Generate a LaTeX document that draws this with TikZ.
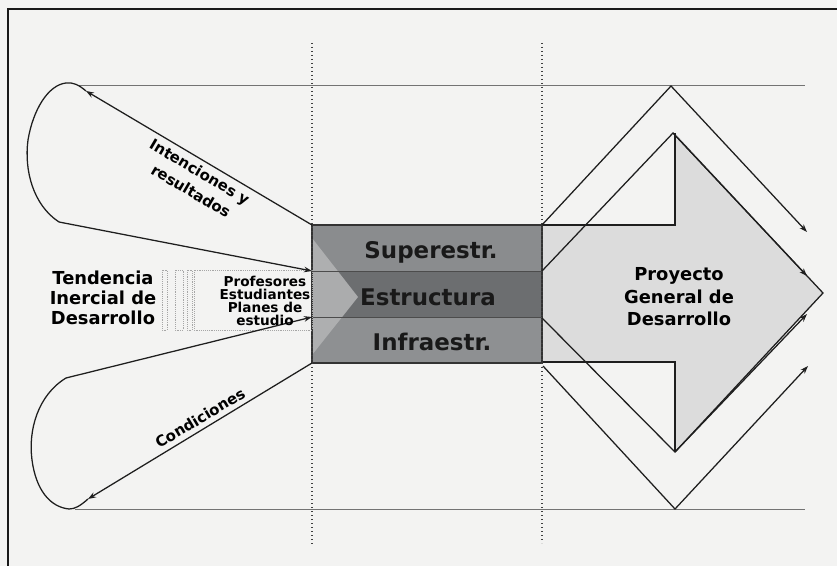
\documentclass[tikz,border=0pt]{standalone}
\usepackage{fontspec}
\setmainfont{DejaVu Sans}
\usetikzlibrary{arrows.meta}
\definecolor{bgpaper}{HTML}{F3F3F2}
\definecolor{inkc}{HTML}{1E1E1E}
\definecolor{bandtop}{HTML}{8A8C8E}
\definecolor{bandmid}{HTML}{6C6E70}
\definecolor{bandbot}{HTML}{8E9092}
\definecolor{lighttri}{HTML}{B2B3B4}
\definecolor{projfill}{HTML}{DCDCDC}
\begin{document}
\begin{tikzpicture}[x=0.75pt,y=-0.75pt,
  ln/.style={draw=inkc, line width=0.95pt},
  arr/.style={ln, -{Stealth[length=6pt,width=4.2pt]}},
  dotv/.style={draw=inkc!85, line width=1pt, dotted},
  hair/.style={draw=black!55, line width=0.7pt},
  ghostbox/.style={draw=black!35, line width=0.4pt, densely dotted},
  bigl/.style={font=\bfseries\fontsize{13.4}{15}\selectfont, align=center, text=black, inner sep=0pt},
  corel/.style={font=\bfseries\fontsize{17.2}{18}\selectfont, text=black!90, inner sep=0pt},
  smalll/.style={font=\bfseries\fontsize{10.2}{9.6}\selectfont, align=center, text=black, inner sep=0pt},
  loopl/.style={font=\bfseries\fontsize{11.2}{14.3}\selectfont, align=center, text=black, inner sep=0pt}]
\fill[bgpaper] (0,0) rectangle (837,566);
\useasboundingbox (0,0) rectangle (837,566);
% frame
\draw[draw=black!90, line width=1.6pt] (8,566) -- (8,9) -- (837,9);
% reference level lines
\draw[hair] (78,85) -- (805,85);
\draw[hair] (75,509) -- (805,509);
% named points
\coordinate (cTL) at (312,225);
\coordinate (cA) at (312,271);
\coordinate (cB) at (312,317);
\coordinate (cBL) at (312,363);
\coordinate (rTL) at (542,225);
\coordinate (rA) at (542,271);
\coordinate (rB) at (542,318);
\coordinate (rBL) at (543,366);
\coordinate (upTurn) at (86,91);
\coordinate (upEnd) at (59,222);
\coordinate (loTurn) at (88,499);
\coordinate (loEnd) at (66,378);
% project block arrow
\fill[projfill] (542,225) -- (675,225) -- (675,133) -- (823,293) -- (675,452) -- (675,362) -- (542,362) -- cycle;
\draw[ln] (542,225) -- (675,225) -- (675,133);
\draw[ln] (542,362) -- (675,362) -- (675,452);
\draw[ln] (673,133) -- (823,293) -- (675,452);
% core structure
\fill[bandtop] (312,225) rectangle (542,271);
\fill[bandmid] (312,271) rectangle (542,317);
\fill[bandbot] (312,317) rectangle (542,363);
\fill[lighttri, opacity=0.9] (312,238) -- (358,297) -- (312,355) -- cycle;
\draw[draw=black!80, line width=0.8pt] (312,225) rectangle (542,363);
\draw[draw=black!70, line width=0.6pt] (312,271) -- (542,271);
\draw[draw=black!70, line width=0.6pt] (312,317) -- (542,317);
\node[corel] (super) at (431,252) {Superestr.};
\node[corel] (estr) at (428,297) {Estructura};
\node[corel] (infra) at (432,342) {Infraestr.};
% dotted verticals
\draw[dotv] (312,43) -- (312,546);
\draw[dotv] (542,43) -- (542,543);
% ghost boxes
\draw[ghostbox] (162,270) rectangle (167,330);
\draw[ghostbox] (175,270) rectangle (183,330);
\draw[ghostbox] (187,270) rectangle (192,330);
\draw[ghostbox] (194,270) rectangle (312,330);
% chevron arrows
\draw[arr] (rTL) -- (671,86) -- (807,232);
\draw[arr] (rA) -- (673,133) -- (807,276);
\draw[arr] (rB) -- (675,452) -- (807,314);
\draw[arr] (rBL) -- (675,509) -- (808,366);
% upper loop
\draw[arr] (cTL) -- (upTurn);
\draw[ln] (upTurn) .. controls (79,85) and (73,82) .. (66,83) .. controls (48,85) and (33,110) .. (28,140) .. controls (24,170) and (33,205) .. (upEnd);
\draw[arr] (upEnd) -- (cA);
% lower loop
\draw[arr] (cBL) -- (loTurn);
\draw[ln] (loTurn) .. controls (80,506) and (75,509) .. (69,509) .. controls (50,507) and (36,490) .. (32,460) .. controls (28,430) and (38,395) .. (loEnd);
\draw[arr] (loEnd) -- (cB);
% labels
\node[bigl] (tend) at (103,298) {Tendencia\\Inercial de\\Desarrollo};
\node[smalll] (prof) at (265,301) {Profesores\\Estudiantes\\Planes de\\estudio};
\node[bigl, font=\bfseries\fontsize{13.4}{16.8}\selectfont] (proy) at (679,297) {Proyecto\\General de\\Desarrollo};
\node[loopl, rotate=-30.5] (inten) at (199,173) {Intenciones y};
\node[loopl, rotate=-30.5] (result) at (191,191) {resultados};
\node[loopl, rotate=31] (cond) at (200,418) {Condiciones};
\end{tikzpicture}
\end{document}
